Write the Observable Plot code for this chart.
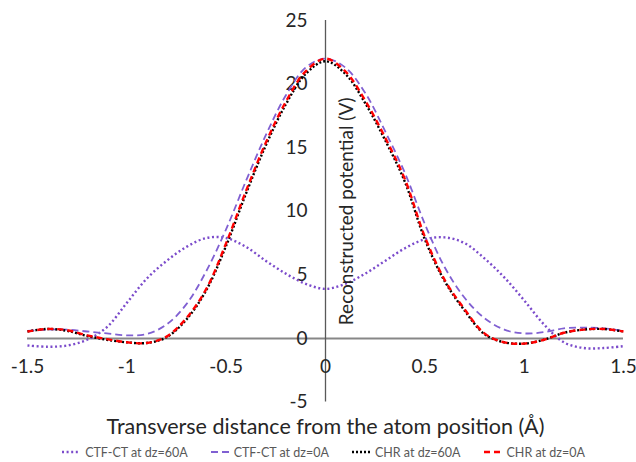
<!DOCTYPE html>
<html><head><meta charset="utf-8">
<script src="https://cdn.jsdelivr.net/npm/d3@7"></script>
<script src="https://cdn.jsdelivr.net/npm/@observablehq/plot@0.6"></script>
<style>
body{margin:0;background:#fff;font-family:Lato,"Open Sans",sans-serif;}
#chart svg{display:block;}
#legend{display:flex;justify-content:center;align-items:center;gap:22px;height:18px;margin-top:2px;font-size:12.5px;color:#595959;font-family:Lato,sans-serif;padding-left:10px;}
#legend .item{display:flex;align-items:center;gap:4px;}
</style></head><body>
<div id="chart"></div>
<div id="legend"></div>
<script>
const xs = [-1.5,-1.4,-1.3,-1.2,-1.1,-1.0,-0.9,-0.8,-0.7,-0.6,-0.5,-0.4,-0.3,-0.2,-0.1,0,0.1,0.2,0.3,0.4,0.5,0.6,0.7,0.8,0.9,1.0,1.1,1.2,1.3,1.4,1.5];
const ctf60 = [-0.55,-0.65,-0.55,-0.1,0.9,2.8,4.7,6.1,7.2,7.9,7.9,7.2,6.1,5.1,4.3,3.9,4.3,5.1,6.1,7.1,7.8,7.95,7.5,6.3,4.8,3.0,1.1,-0.3,-0.75,-0.75,-0.6];
const ctf0 = [0.6,0.7,0.7,0.55,0.4,0.25,0.35,1.1,2.7,5.3,8.6,12.4,16.0,19.1,21.3,22.0,21.3,19.3,16.3,13.0,9.0,5.6,3.2,1.6,0.7,0.4,0.5,0.8,0.85,0.8,0.6];
const chr60 = [0.55,0.75,0.6,0.2,-0.1,-0.3,-0.35,0.1,1.5,3.8,7.3,11.4,15.2,18.4,20.8,21.8,20.8,18.5,15.6,12.3,7.8,4.5,2.2,0.35,-0.3,-0.4,-0.1,0.45,0.7,0.75,0.55];
const chr0 = [0.55,0.75,0.65,0.25,-0.05,-0.3,-0.35,0.15,1.6,3.9,7.5,11.6,15.4,18.6,21.0,22.0,21.0,18.7,15.8,12.5,8.0,4.6,2.3,0.4,-0.3,-0.4,-0.1,0.45,0.7,0.75,0.55];
const seriesNames = ["CTF-CT at dz=60A","CTF-CT at dz=0A","CHR at dz=60A","CHR at dz=0A"];
const xTicks = [-1.5,-1,-0.5,0,0.5,1,1.5];
const yTicks = [-5,0,5,10,15,20,25];
const xTitle = "Transverse distance from the atom position (Å)";
const yTitle = "Reconstructed potential (V)";

const seriesStyle = [
  {stroke:"#7B4BCB", dash:"2,2.6", width:2.4},
  {stroke:"#8060D2", dash:"7,4", width:1.8},
  {stroke:"#000000", dash:"2,2", width:2.4},
  {stroke:"#FF0000", dash:"6,4", width:2.4}
];
const seriesVals = [ctf60, ctf0, chr60, chr0];

const lineMarks = seriesVals.map((vals, k) => Plot.line(xs.map((x,i)=>({x, y: vals[i]})), {
  x:"x", y:"y", curve:"catmull-rom",
  stroke: seriesStyle[k].stroke, strokeWidth: seriesStyle[k].width,
  strokeDasharray: seriesStyle[k].dash, strokeLinecap:"butt"
}));

const H = 441;
const chart = Plot.plot({
  width:636, height:H,
  marginLeft:27, marginRight:13, marginTop:20, marginBottom:H-401.6,
  x:{domain:[-1.5,1.5], axis:null},
  y:{domain:[-5,25], axis:null},
  style:{fontFamily:"Lato, sans-serif", background:"white", color:"#262626", overflow:"visible"},
  marks:[
    Plot.ruleY([0], {x1:-1.5, x2:1.5, stroke:"#878787", strokeWidth:2}),
    Plot.ruleX([0], {y1:-5, y2:25, stroke:"#595959", strokeWidth:1.3}),
    Plot.text(yTicks, {x:0, y:d=>d, text:d=>String(d), dx:-18, textAnchor:"end", fontSize:19, fill:"#262626"}),
    Plot.text(xTicks, {x:d=>d, y:0, text:d=>String(d), dy:28, fontSize:19, fill:"#262626"}),
    ...lineMarks,
    Plot.text([yTitle], {frameAnchor:"middle", rotate:-90, dx:21, fontSize:19, fill:"#262626"}),
    Plot.text([xTitle], {frameAnchor:"bottom", lineAnchor:"middle", dy:25, fontSize:21.5, fill:"#262626"})
  ]
});
document.getElementById("chart").appendChild(chart);

const legend = document.getElementById("legend");
seriesNames.forEach((name, k) => {
  const s = seriesStyle[k];
  const item = document.createElement("div");
  item.className = "item";
  item.innerHTML = `<svg width="20" height="6"><line x1="1" y1="3" x2="19" y2="3" stroke="${s.stroke}" stroke-width="${s.width}" stroke-dasharray="${s.dash}"/></svg><span>${name}</span>`;
  legend.appendChild(item);
});
</script>
</body></html>
